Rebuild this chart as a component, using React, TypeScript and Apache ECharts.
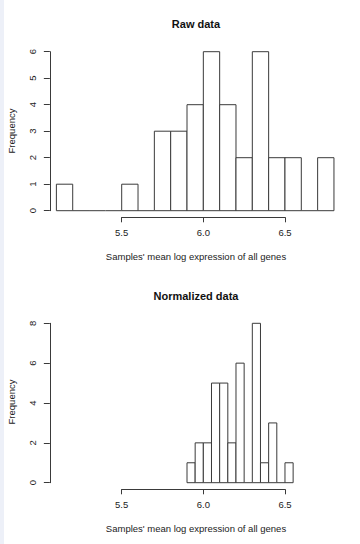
import React, { useEffect, useRef } from "react";
import * as echarts from "echarts";

const rawBreaks = [5.1, 5.2, 5.3, 5.4, 5.5, 5.6, 5.7, 5.8, 5.9, 6.0, 6.1, 6.2, 6.3, 6.4, 6.5, 6.6, 6.7, 6.8];
const rawCounts = [1, 0, 0, 0, 1, 0, 3, 3, 4, 6, 4, 2, 6, 2, 2, 0, 2];
const normBreaks = [5.9, 5.95, 6.0, 6.05, 6.1, 6.15, 6.2, 6.25, 6.3, 6.35, 6.4, 6.45, 6.5, 6.55];
const normCounts = [1, 2, 2, 5, 5, 2, 6, 0, 8, 1, 3, 0, 1];
const xTickLabels = [5.5, 6.0, 6.5];
const rawTitle = "Raw data";
const normTitle = "Normalized data";
const xTitle = "Samples' mean log expression of all genes";
const yTitle = "Frequency";

const FONT = "'Liberation Sans', Arial, sans-serif";
const LINE = "#3a3a3a";
const TEXT = "#222";

function histData(breaks: number[], counts: number[]) {
  return counts.map((c, i) => [breaks[i], breaks[i + 1], c]);
}

function renderBin(params: any, api: any) {
  const s = api.value(0);
  const e = api.value(1);
  const c = api.value(2);
  const p0 = api.coord([s, 0]);
  const p1 = api.coord([e, c]);
  if (c === 0) {
    return {
      type: "line",
      shape: { x1: p0[0], y1: p0[1], x2: p1[0], y2: p0[1] },
      style: { stroke: LINE, lineWidth: 1 },
    };
  }
  return {
    type: "rect",
    shape: { x: p0[0], y: p1[1], width: p1[0] - p0[0], height: p0[1] - p1[1] },
    style: { fill: "#ffffff", stroke: LINE, lineWidth: 1 },
  };
}

export default function App() {
  const ref = useRef<HTMLDivElement>(null);
  useEffect(() => {
    if (!ref.current) return;
    const chart = echarts.init(ref.current, null, { renderer: "svg" });
    const dataX = { min: 5.06, max: 6.86 };
    const hiddenX = (gi: number) => ({ type: "value", gridIndex: gi, show: false, ...dataX });
    const shownX = (gi: number) => ({
      type: "value",
      gridIndex: gi,
      min: 5.5,
      max: 6.5,
      interval: 0.5,
      axisLine: { show: true, lineStyle: { color: LINE, width: 1 } },
      axisTick: { show: true, length: 5, lineStyle: { color: LINE } },
      axisLabel: {
        show: true,
        margin: 10,
        color: TEXT,
        fontSize: 9.5,
        fontFamily: FONT,
        formatter: (v: number) => (xTickLabels.includes(v) ? v.toFixed(1) : ""),
      },
      splitLine: { show: false },
    });
    const shownY = (gi: number, max: number, interval: number) => ({
      type: "value",
      gridIndex: gi,
      min: 0,
      max,
      interval,
      axisLine: { show: true, lineStyle: { color: LINE, width: 1 } },
      axisTick: { show: true, length: 6, lineStyle: { color: LINE } },
      axisLabel: {
        show: true,
        rotate: 90,
        margin: 12,
        color: TEXT,
        fontSize: 9.5,
        fontFamily: FONT,
      },
      splitLine: { show: false },
    });
    const hiddenY = (gi: number) => ({ type: "value", gridIndex: gi, show: false, min: 0, max: 1 });

    chart.setOption({
      animation: false,
      backgroundColor: "#ffffff",
      grid: [
        { left: 49.85, width: 293.9, top: 51.7, height: 159, containLabel: false },
        { left: 121.7, width: 163.3, top: 216.3, height: 1, containLabel: false },
        { left: 49.85, width: 293.9, top: 323.3, height: 159.4, containLabel: false },
        { left: 121.7, width: 163.3, top: 488.3, height: 1, containLabel: false },
      ],
      xAxis: [hiddenX(0), shownX(1), hiddenX(2), shownX(3)],
      yAxis: [shownY(0, 6, 1), hiddenY(1), shownY(2, 8, 2), hiddenY(3)],
      series: [
        {
          type: "custom",
          xAxisIndex: 0,
          yAxisIndex: 0,
          renderItem: renderBin,
          encode: { x: [0, 1], y: 2 },
          data: histData(rawBreaks, rawCounts),
          silent: true,
        },
        {
          type: "custom",
          xAxisIndex: 2,
          yAxisIndex: 2,
          renderItem: renderBin,
          encode: { x: [0, 1], y: 2 },
          data: histData(normBreaks, normCounts),
          silent: true,
        },
      ],
      graphic: [
        { type: "rect", left: 0, top: 0, shape: { width: 4, height: 544 }, style: { fill: "#edf0f8" }, silent: true },
        {
          type: "text", x: 196, y: 24,
          style: { text: rawTitle, font: `bold 11px ${FONT}`, fill: "#111", align: "center", verticalAlign: "middle" },
        },
        {
          type: "text", x: 196, y: 296,
          style: { text: normTitle, font: `bold 11px ${FONT}`, fill: "#111", align: "center", verticalAlign: "middle" },
        },
        {
          type: "text", x: 196, y: 256,
          style: { text: xTitle, font: `9.5px ${FONT}`, fill: TEXT, align: "center", verticalAlign: "middle" },
        },
        {
          type: "text", x: 196, y: 528,
          style: { text: xTitle, font: `9.5px ${FONT}`, fill: TEXT, align: "center", verticalAlign: "middle" },
        },
        {
          type: "text", x: 11, y: 131, rotation: Math.PI / 2,
          style: { text: yTitle, font: `9.5px ${FONT}`, fill: TEXT, align: "center", verticalAlign: "middle" },
        },
        {
          type: "text", x: 11, y: 402, rotation: Math.PI / 2,
          style: { text: yTitle, font: `9.5px ${FONT}`, fill: TEXT, align: "center", verticalAlign: "middle" },
        },
      ],
    });
    return () => chart.dispose();
  }, []);
  return (
    <div
      ref={ref}
      style={{ position: "absolute", left: 0, top: 0, width: 360, height: 544, background: "#fff" }}
    />
  );
}
